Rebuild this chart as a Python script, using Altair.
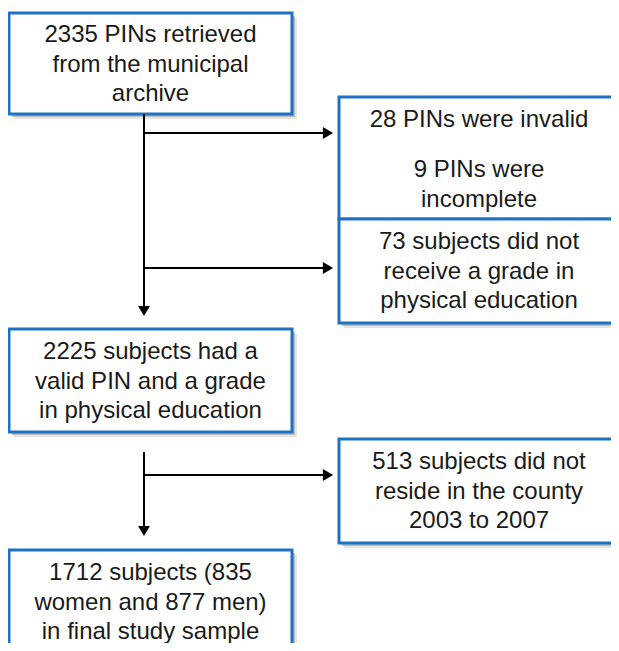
import altair as alt
import pandas as pd

# ---- content (texts of the flow chart) ----
box_texts = [
    "2335 PINs retrieved\nfrom the municipal\narchive",
    "28 PINs were invalid",
    "9 PINs were\nincomplete",
    "73 subjects did not\nreceive a grade in\nphysical education",
    "2225 subjects had a\nvalid PIN and a grade\nin physical education",
    "513 subjects did not\nreside in the county\n2003 to 2007",
    "1712 subjects (835\nwomen and 877 men)\nin final study sample",
]

# ---- layout (page-pixel coordinates; y of the first line of each text) ----
text_cx = [150.5, 479, 479, 479, 150.5, 479, 150.5]
text_y1 = [35, 120, 170, 242, 352, 462, 573]

box_x0 = [9, 339, 339, 9, 339, 9]
box_x1 = [292, 618, 618, 292, 618, 292]
box_y0 = [13, 97, 219, 329, 439, 550]
box_y1 = [114, 219, 323, 432, 543, 664]

rule_x0 = [144, 144, 144, 144, 144]
rule_x1 = [144, 326, 326, 144, 326]
rule_y0 = [114, 133, 268, 452, 475]
rule_y1 = [311, 133, 268, 531, 475]

head_x = [328, 328, 328, 144, 144]
head_y = [133, 268, 475, 311, 531]
head_shape = ["triangle-right", "triangle-right", "triangle-right",
              "triangle-down", "triangle-down"]

# plot area sized so the page (with its 8px margin) is exactly 619x651
W, H = 603, 635
xs = alt.Scale(domain=[8, 8 + W], nice=False, zero=False)
ys = alt.Scale(domain=[8, 8 + H], nice=False, zero=False, reverse=True)

boxes = pd.DataFrame({"x0": box_x0, "x1": box_x1, "y0": box_y0, "y1": box_y1})
shadow = boxes.copy()
shadow[["x0", "x1"]] += 3
shadow[["y0", "y1"]] += 3
shadow2 = boxes.copy()
shadow2[["x0", "x1"]] += 5
shadow2[["y0", "y1"]] += 5

texts = pd.DataFrame({"t": box_texts, "x": text_cx, "y": text_y1})
rules = pd.DataFrame({"x0": rule_x0, "x1": rule_x1, "y0": rule_y0, "y1": rule_y1})
heads = pd.DataFrame({"x": head_x, "y": head_y, "s": head_shape})


def rect_layer(df, **mk):
    return alt.Chart(df).mark_rect(clip=True, **mk).encode(
        x=alt.X("x0:Q", scale=xs, axis=None),
        x2="x1:Q",
        y=alt.Y("y0:Q", scale=ys, axis=None),
        y2="y1:Q",
    )


sh2 = rect_layer(shadow2, fill="#d9d9d9", opacity=0.7)
sh1 = rect_layer(shadow, fill="#b0b0b0", opacity=0.8)
bx = rect_layer(boxes, fill="white", stroke="#1f72c2", strokeWidth=3)

ln = alt.Chart(rules).mark_rule(color="black", strokeWidth=2).encode(
    x=alt.X("x0:Q", scale=xs, axis=None),
    x2="x1:Q",
    y=alt.Y("y0:Q", scale=ys, axis=None),
    y2="y1:Q",
)

hd = alt.Chart(heads).mark_point(filled=True, color="black", opacity=1, size=140).encode(
    x=alt.X("x:Q", scale=xs, axis=None),
    y=alt.Y("y:Q", scale=ys, axis=None),
    shape=alt.Shape("s:N", scale=None, legend=None),
)

tx = alt.Chart(texts).mark_text(
    font="Liberation Sans", fontSize=24, lineHeight=29.5, lineBreak="\n",
    color="#1a1a1a", align="center", baseline="middle",
).encode(
    x=alt.X("x:Q", scale=xs, axis=None),
    y=alt.Y("y:Q", scale=ys, axis=None),
    text="t:N",
)

chart = alt.layer(sh2, sh1, bx, ln, hd, tx).properties(
    width=W, height=H, padding=0, autosize=alt.AutoSizeParams(type="none"),
    background="white",
).configure_view(stroke=None)

chart.save("out.html", embed_options={"renderer": "svg", "actions": False})
